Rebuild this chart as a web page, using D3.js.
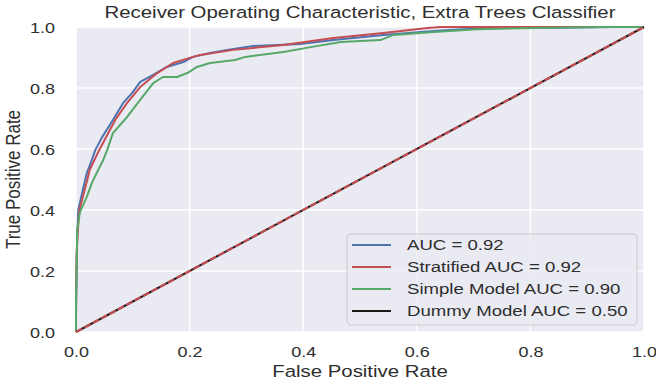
<!DOCTYPE html>
<html>
<head>
<meta charset="utf-8">
<script src="https://cdn.jsdelivr.net/npm/d3@7/dist/d3.min.js"></script>
<style>
  body { margin: 0; background: #ffffff; }
  text { font-family: Arial, "Liberation Sans", sans-serif; fill: #2e2e2e; }
</style>
</head>
<body>
<svg id="chart" width="656" height="384"></svg>
<script>
// ---- data ----
const chartTitle = "Receiver Operating Characteristic, Extra Trees Classifier";
const xAxisLabel = "False Positive Rate";
const yAxisLabel = "True Positive Rate";
const tickValues = [0.0, 0.2, 0.4, 0.6, 0.8, 1.0];

const seriesNames = ["AUC = 0.92", "Stratified AUC = 0.92", "Simple Model AUC = 0.90", "Dummy Model AUC = 0.50"];
const seriesColors = ["#4C72B0", "#C44E52", "#55A868", "#1a1a1a"];

// ROC curve points: false positive rate / true positive rate
const baseFpr = [0, 0, 0.001, 0.002, 0.004, 0.012, 0.019, 0.028, 0.034, 0.037, 0.046, 0.065, 0.083, 0.099, 0.113, 0.136, 0.160, 0.189, 0.206, 0.236, 0.266, 0.312, 0.395, 0.453, 0.541, 0.630, 0.718, 0.806, 0.954, 1];
const baseTpr = [0, 0.05, 0.20, 0.30, 0.40, 0.466, 0.521, 0.564, 0.597, 0.607, 0.639, 0.695, 0.751, 0.784, 0.820, 0.843, 0.869, 0.885, 0.902, 0.915, 0.925, 0.938, 0.944, 0.957, 0.974, 0.987, 0.997, 0.997, 1.0, 1];

const stratFpr = [0, 0, 0.001, 0.003, 0.006, 0.020, 0.024, 0.041, 0.069, 0.090, 0.113, 0.143, 0.171, 0.206, 0.219, 0.277, 0.365, 0.453, 0.541, 0.619, 0.642, 1];
const stratTpr = [0, 0.08, 0.25, 0.33, 0.40, 0.500, 0.531, 0.597, 0.695, 0.751, 0.803, 0.849, 0.882, 0.902, 0.908, 0.925, 0.941, 0.964, 0.980, 0.997, 1.0, 1];

const simpleFpr = [0, 0, 0.001, 0.002, 0.007, 0.019, 0.028, 0.039, 0.048, 0.055, 0.065, 0.090, 0.113, 0.136, 0.153, 0.178, 0.196, 0.213, 0.236, 0.280, 0.298, 0.365, 0.413, 0.466, 0.536, 0.559, 0.630, 0.707, 0.806, 0.924, 1];
const simpleTpr = [0, 0.10, 0.20, 0.334, 0.393, 0.443, 0.489, 0.531, 0.564, 0.597, 0.652, 0.705, 0.761, 0.816, 0.836, 0.836, 0.849, 0.869, 0.882, 0.892, 0.902, 0.918, 0.934, 0.951, 0.957, 0.974, 0.984, 0.993, 0.997, 1.0, 1];

const dummyFpr = [0, 1];
const dummyTpr = [0, 1];

// chance diagonal
const chanceFpr = [0, 1];
const chanceTpr = [0, 1];

// ---- layout ----
const svg = d3.select("#chart");
const plot = { left: 76, right: 644, top: 27, bottom: 332 };
const stretch = 1.2; // horizontal text widening

const x = d3.scaleLinear().domain([0, 1]).range([plot.left, plot.right]);
const y = d3.scaleLinear().domain([0, 1]).range([plot.bottom, plot.top]);

// axes background
svg.append("rect")
  .attr("x", plot.left).attr("y", plot.top)
  .attr("width", plot.right - plot.left).attr("height", plot.bottom - plot.top)
  .attr("fill", "#EAEAF2");

// grid lines
const grid = svg.append("g");
grid.selectAll("line.vx").data(tickValues).join("line")
  .attr("x1", d => x(d)).attr("x2", d => x(d))
  .attr("y1", plot.top).attr("y2", plot.bottom)
  .attr("stroke", "#ffffff").attr("stroke-width", 1.5);
grid.selectAll("line.hy").data(tickValues).join("line")
  .attr("y1", d => y(d)).attr("y2", d => y(d))
  .attr("x1", plot.left).attr("x2", plot.right)
  .attr("stroke", "#ffffff").attr("stroke-width", 1.5);

// axes (labels only, no spines or tick marks)
const fmt = d3.format(".1f");
const xAxis = svg.append("g")
  .attr("transform", `translate(0,${plot.bottom})`)
  .call(d3.axisBottom(x).tickValues(tickValues).tickFormat(fmt).tickSize(0));
xAxis.select(".domain").remove();
xAxis.selectAll("text")
  .attr("y", 0).attr("dy", 0)
  .attr("transform", `translate(0,25) scale(${stretch},1)`)
  .style("font-size", "15px").style("font-family", "Arial, 'Liberation Sans', sans-serif")
  .attr("fill", "#2e2e2e");

const yAxis = svg.append("g")
  .attr("transform", `translate(${plot.left},0)`)
  .call(d3.axisLeft(y).tickValues(tickValues).tickFormat(fmt).tickSize(0));
yAxis.select(".domain").remove();
yAxis.selectAll("text")
  .attr("x", 0).attr("dy", "0.35em")
  .attr("transform", `translate(-21,0) scale(${stretch},1)`)
  .style("font-size", "15px").style("font-family", "Arial, 'Liberation Sans', sans-serif")
  .attr("fill", "#2e2e2e");

// title and axis labels
svg.append("text")
  .attr("transform", `translate(${(plot.left + plot.right) / 2},18) scale(${stretch},1)`)
  .attr("text-anchor", "middle").style("font-size", "17px")
  .text(chartTitle);
svg.append("text")
  .attr("transform", `translate(${(plot.left + plot.right) / 2},377) scale(${stretch},1)`)
  .attr("text-anchor", "middle").style("font-size", "17px")
  .text(xAxisLabel);
svg.append("text")
  .attr("transform", `translate(20,${(plot.top + plot.bottom) / 2}) scale(${stretch},1) rotate(-90)`)
  .attr("text-anchor", "middle").style("font-size", "17px")
  .text(yAxisLabel);

// curves
const line = d3.line().x(d => x(d[0])).y(d => y(d[1]));
const curves = [
  [baseFpr, baseTpr],
  [stratFpr, stratTpr],
  [simpleFpr, simpleTpr],
  [dummyFpr, dummyTpr]
];
const curveG = svg.append("g");
curves.forEach((c, i) => {
  curveG.append("path")
    .datum(d3.zip(c[0], c[1]))
    .attr("d", line)
    .attr("fill", "none")
    .attr("stroke", seriesColors[i])
    .attr("stroke-width", 2)
    .attr("stroke-linejoin", "round");
});
curveG.append("path")
  .datum(d3.zip(chanceFpr, chanceTpr))
  .attr("d", line)
  .attr("fill", "none")
  .attr("stroke", "#C44E52")
  .attr("stroke-width", 2.2)
  .attr("stroke-dasharray", "7,2.5");

// legend
const legend = { x: 347, y: 234, w: 290, h: 91, row: 22 };
const lg = svg.append("g");
lg.append("rect")
  .attr("x", legend.x).attr("y", legend.y)
  .attr("width", legend.w).attr("height", legend.h)
  .attr("rx", 4).attr("ry", 4)
  .attr("fill", "#EAEAF2").attr("fill-opacity", 0.8)
  .attr("stroke", "#cccccc").attr("stroke-width", 1);
seriesNames.forEach((name, i) => {
  const cy = legend.y + 11 + i * legend.row;
  lg.append("line")
    .attr("x1", legend.x + 5).attr("x2", legend.x + 44)
    .attr("y1", cy).attr("y2", cy)
    .attr("stroke", seriesColors[i]).attr("stroke-width", 2);
  lg.append("text")
    .attr("transform", `translate(${legend.x + 60},${cy}) scale(${stretch},1)`)
    .attr("dy", "0.35em")
    .style("font-size", "15.5px")
    .text(name);
});
</script>
</body>
</html>
